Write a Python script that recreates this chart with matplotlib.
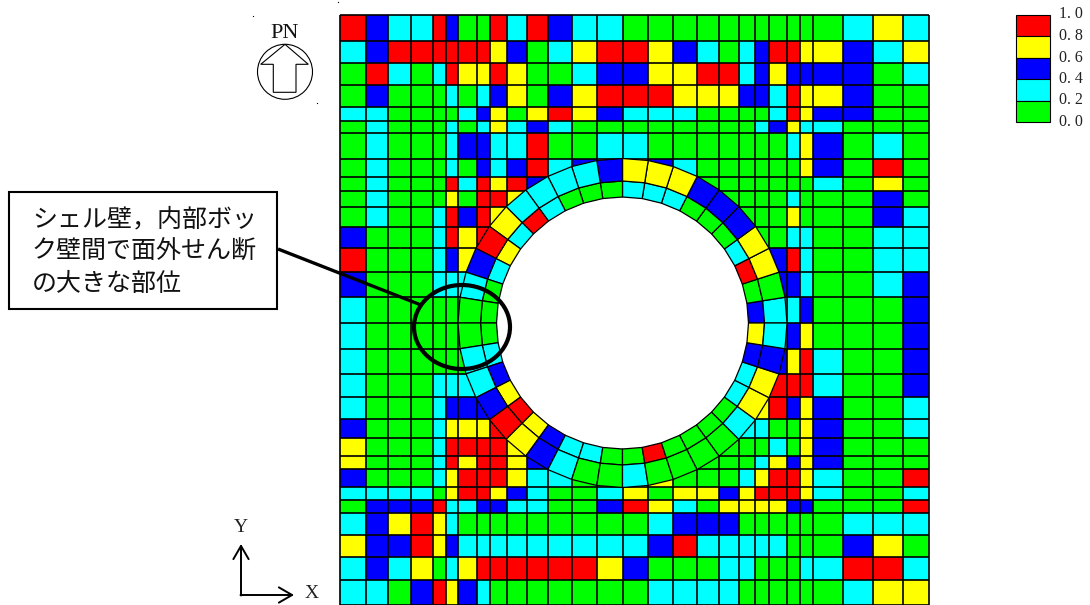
import numpy as np
import matplotlib
matplotlib.use("Agg")
import matplotlib.pyplot as plt
from matplotlib.collections import PolyCollection
from matplotlib.colors import ListedColormap, BoundaryNorm
from matplotlib.patches import Circle, Ellipse, Polygon, Rectangle

# colour bands, low to high: G 0.0-0.2, C 0.2-0.4, B 0.4-0.6, Y 0.6-0.8, R 0.8-1.0
band_codes = "GCBYR"
band_colors = ["#00ff00", "#00ffff", "#0000ff", "#ffff00", "#ff0000"]
legend_labels = ["1. 0", "0. 8", "0. 6", "0. 4", "0. 2", "0. 0"]

# mesh lines of the slab, '.' = element hidden by the ring or the opening
x_edges = [340, 366, 388, 411, 433, 446, 458, 477, 490, 507, 527, 548, 572, 597, 623,
           648, 673, 697, 719, 739, 755, 769, 787, 800, 813, 843, 873, 903, 929]
y_edges = [15, 41, 63, 85, 107, 121, 133, 159, 177, 191, 207, 227, 248, 272, 297,
           323, 349, 374, 397, 419, 438, 456, 469, 487, 500, 513, 535, 557, 580, 605]
slab_rows = [
    "RBCCRBGGRCRBCCG" "GGGGGGGGGGCYC",
    "CBRRRRRRYBGCYRR" "YBCGCBRRYYBCY",
    "GRCGCRYYRYGGCBB" "YYRRCBYBBBBGC",
    "GBGGGCGCBYGBYRR" "RYYYBBCRYYBGG",
    "CCGGGGCBYGYRYBC" "CCGGGGCRYBBGG",
    "GCGGGCGCYCBCGGG" "GGGGGCBYCCGGG",
    "GCGGGCBBCCRGGCC" "GGGGGGGCYBGCG",
    "GCGGGCGBCBRCB.." "BCGGGGGGYBGRG",
    "GCGGGRCRYRB...." "..GGGGGGGCGYG",
    "GCGGGYGRRY....." "...GGGGCGGGBG",
    "GCGGCRBRY......" "....GGGYGGGBC",
    "BGGGCRYR......." ".....GGCCGGCC",
    "RGGGCBY........" "......BRCGGCC",
    "BGGGCCC........" "......BBCGGCB",
    "CGGGGG........." ".......CBGGGB",
    "CGGGGG........." ".......BYGGGB",
    "CGGGGGG........" "......BYRCGGB",
    "CGGGCCC........" "......RRRCGGB",
    "CGGGCBBB......." ".....YRBYBGGC",
    "BGGGCYYYR......" "....CCGGYBGGC",
    "YGGGCRRRRY....." "...GGGCGYBGGG",
    "YGGGCRYRRYB...." "..GGGCYBYBGGG",
    "BGGGCYRRRYCCG.." "YGGGCYRRYCGGR",
    "CCCCGYRRYBCGGCY" "GYYBYRRRYCGGC",
    "GBBBRCCBBCCGGBR" "YCGYYYYBBGGGR",
    "CBYRYCGGGGGGGGG" "CBBBGGGGGGCCC",
    "YBBRYBCCCCCCCCC" "BRCCCCCGGGBYG",
    "CBCYGCYRRRRRRYB" "GGGCCGGGCCRRC",
    "CCGBRYBCGGGGGGG" "CCCCGGGGGGCYY",
]

# cylinder ring, 40 elements of 9 degrees, counter-clockwise from +X
ring_outer = "CGYYBBBYYYBCCCCYRBCGGCCBRYBCGGCGGGGCYYBC"
ring_inner = "BGRCGGGCCCGGGCRCYCGGGCBYRYBCCGGRGGGGCCBY"
ring_center = (622.5, 323)
ring_radii = [126, 142, 164.5]
angle_step = 9


def to_levels(text):
    return [band_codes.index(c) if c != "." else -1 for c in text]


def ring_point(r, deg):
    a = np.deg2rad(deg)
    return (ring_center[0] + r * np.cos(a), ring_center[1] - r * np.sin(a))


def ring_polys(r0, r1):
    polys = []
    for k in range(360 // angle_step):
        a0, a1 = k * angle_step, (k + 1) * angle_step
        polys.append([ring_point(r0, a0), ring_point(r1, a0), ring_point(r1, a1), ring_point(r0, a1)])
    return polys


plt.rcParams['font.family'] = ['Liberation Serif', 'DejaVu Serif']

fig = plt.figure(figsize=(10.9, 6.05), dpi=100)
ax = fig.add_axes([0, 0, 1, 1])
ax.set_xlim(0, 1090)
ax.set_ylim(605, 0)
ax.axis('off')

cmap = ListedColormap(band_colors)
norm = BoundaryNorm(np.arange(-0.5, 5.5), cmap.N)

# slab mesh, lines drawn separately so they stay even
levels = np.array([to_levels(r) for r in slab_rows])
ax.pcolormesh(x_edges, y_edges, np.ma.masked_less(levels, 0), cmap=cmap, norm=norm, zorder=1)
ax.vlines(x_edges, y_edges[0], y_edges[-1], color='black', lw=1.2, zorder=1.2)
ax.hlines(y_edges, x_edges[0], x_edges[-1], color='black', lw=1.2, zorder=1.2)

# opening
ax.add_patch(Polygon([ring_point(ring_radii[0], a) for a in range(0, 360, angle_step)],
                     closed=True, facecolor='white', edgecolor='none', zorder=1.5))

# ring around the opening
for (r0, r1), codes in zip([(ring_radii[0], ring_radii[1]), (ring_radii[1], ring_radii[2])],
                           [ring_inner, ring_outer]):
    ax.add_collection(PolyCollection(ring_polys(r0, r1),
                                     facecolors=[band_colors[v] for v in to_levels(codes)],
                                     edgecolors='black', linewidths=0.9, zorder=2))

# legend
legend_x, legend_w = 1016, 34
legend_y = [14.5, 36, 57.5, 79, 100.5, 122]
for i, code in enumerate("RYBCG"):
    ax.add_patch(Rectangle((legend_x, legend_y[i]), legend_w, legend_y[i + 1] - legend_y[i],
                           facecolor=band_colors[band_codes.index(code)],
                           edgecolor='black', linewidth=0.8))
for y, lab in zip(legend_y, legend_labels):
    ax.text(1059, y, lab, fontsize=11.5, ha='left', va='center', color='#222222')

# callout
ax.plot([278, 421], [249, 305], color='black', lw=2.4, solid_capstyle='butt', zorder=3)
ax.add_patch(Rectangle((9, 191.5), 268, 117, facecolor='white', edgecolor='black', lw=1.5, zorder=4))
ax.add_patch(Ellipse((462, 327), 96, 84, fill=False, edgecolor='black', lw=3, zorder=4))
callout_lines = ["シェル壁，内部ボッ", "ク壁間で面外せん断", "の大きな部位"]
for y, line in zip([219, 252, 284], callout_lines):
    ax.text(32, y, line, fontsize=18, ha='left', va='center', color='#111111', zorder=5,
            family=['Noto Sans CJK JP', 'DejaVu Sans'])

# plant north arrow
ax.add_patch(Circle((285, 71.8), 27.5, fill=False, edgecolor='black', lw=0.8))
ax.add_patch(Polygon([(285, 44.3), (260.7, 64.3), (273.3, 64.3), (273.3, 92.3),
                      (296, 92.3), (296, 64.3), (308.3, 64.3)],
                     closed=True, fill=False, edgecolor='black', lw=0.8))
ax.text(285, 33, "PN", fontsize=16, ha='center', va='center', color='#111111')

# axis triad
head = dict(arrowstyle='->,head_length=0.95,head_width=0.55', mutation_scale=10,
            shrinkA=0, shrinkB=0, color='black', lw=1.4)
ax.annotate("", xy=(241, 544), xytext=(241, 595.5), arrowprops=head)
ax.annotate("", xy=(294, 595), xytext=(240.5, 595), arrowprops=head)
ax.text(241, 527, "Y", fontsize=14, ha='center', va='center', color='#222222')
ax.text(312, 594, "X", fontsize=14, ha='center', va='center', color='#222222')

# stray specks from the source drawing
ax.plot([253.3, 337.7, 316.7], [16, 2.3, 103], ls='none', marker='s', ms=0.8, mew=0, color='black')

fig.savefig("out.png", dpi=100)
